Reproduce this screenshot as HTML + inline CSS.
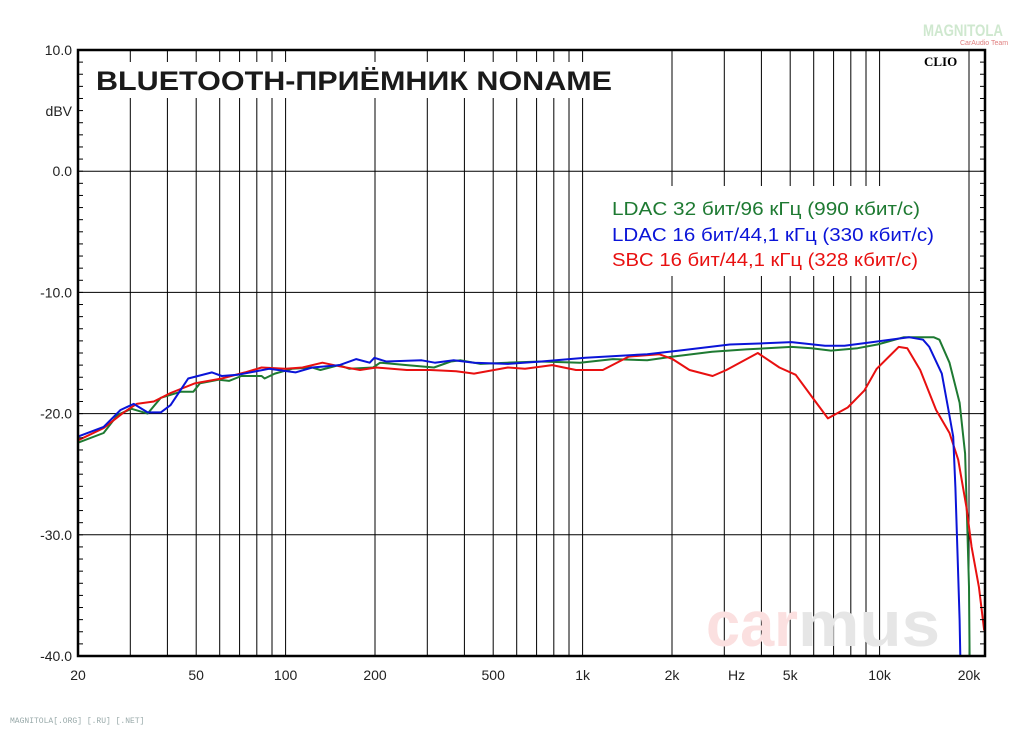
<!DOCTYPE html>
<html><head><meta charset="utf-8"><style>
html,body{margin:0;padding:0;background:#fff;}
svg{display:block;font-family:"Liberation Sans",sans-serif;}
</style></head><body>
<svg id="chart" width="1024" height="730" viewBox="0 0 1024 730">
<g id="grid"></g>
<g id="wm">
<text x="706" y="646" font-size="64" font-weight="bold" fill="#fbe0e0" textLength="92" lengthAdjust="spacingAndGlyphs">car</text>
<text x="798" y="646" font-size="64" font-weight="bold" fill="#e6e6e6" textLength="142" lengthAdjust="spacingAndGlyphs">mus</text>
</g>
<g id="series"></g>
<rect x="88" y="62" width="536" height="36" fill="#fff"/>
<text x="96" y="90" font-size="27" font-weight="bold" fill="#1a1a1a" textLength="516" lengthAdjust="spacingAndGlyphs">BLUETOOTH-ПРИЁМНИК NONAME</text>
<text x="924" y="66" font-family="Liberation Serif,serif" font-size="13" font-weight="bold" fill="#000">CLIO</text>
<rect x="600" y="186" width="346" height="90" fill="#fff"/>
<text x="612" y="215" font-size="18" fill="#1e7a32" textLength="308" lengthAdjust="spacingAndGlyphs">LDAC 32 бит/96 кГц (990 кбит/с)</text>
<text x="612" y="241" font-size="18" fill="#0a14d8" textLength="322" lengthAdjust="spacingAndGlyphs">LDAC 16 бит/44,1 кГц (330 кбит/с)</text>
<text x="612" y="266" font-size="18" fill="#e81010" textLength="306" lengthAdjust="spacingAndGlyphs">SBC 16 бит/44,1 кГц (328 кбит/с)</text>
<text x="923" y="36" font-size="17" font-weight="bold" fill="#cfe8cf" textLength="80" lengthAdjust="spacingAndGlyphs">MAGNITOLA</text>
<text x="960" y="45" font-size="7" fill="#e08080">CarAudio Team</text>
<text x="10" y="723" font-family="Liberation Mono,monospace" font-size="8" fill="#9aa">MAGNITOLA[.ORG] [.RU] [.NET]</text>
<rect x="78" y="50" width="907" height="606" fill="none" stroke="#000" stroke-width="2.5"/>
<g id="axes"></g>
</svg>
<script>
const yTicks=[10,0,-10,-20,-30,-40];
const yTickLabels=["10.0","0.0","-10.0","-20.0","-30.0","-40.0"];
const xTicks=[20,50,100,200,500,1000,2000,5000,10000,20000];
const xTickLabels=["20","50","100","200","500","1k","2k","5k","10k","20k"];
const gridFreqs=[30,40,50,60,70,80,90,100,200,300,400,500,600,700,800,900,1000,2000,3000,4000,5000,6000,7000,8000,9000,10000,20000];
const greenF=[20,24.4,27.2,30.3,34.3,38,44.3,48.9,51.5,59.6,64.5,71,83,85,92,105,123,131,151,164,197,208,256,316,360,389,453,557,725,980,1265,1650,2010,2730,3550,5050,5900,6860,8430,9830,12070,15200,15900,17200,18600,19400,19700,20000,20100];
const greenDb=[-22.4,-21.6,-20.1,-19.6,-20.0,-18.7,-18.2,-18.2,-17.5,-17.2,-17.3,-16.9,-16.9,-17.1,-16.7,-16.3,-16.2,-16.4,-16.0,-16.3,-16.2,-15.8,-16.0,-16.2,-15.7,-15.6,-15.9,-15.8,-15.7,-15.8,-15.5,-15.6,-15.3,-14.9,-14.7,-14.5,-14.6,-14.8,-14.6,-14.3,-13.7,-13.7,-13.9,-15.8,-19.1,-23.3,-28.8,-34.3,-40];
const blueF=[20,24.4,27.8,30.8,34.3,38,41,47,56.5,61,69,88,108,123,152,173,192,199,218,287,318,368,431,560,726,1023,1650,2110,3130,4090,5050,6550,7620,9460,12550,14000,14700,16200,17000,17700,18000,18300,18600,18700];
const blueDb=[-21.9,-21.1,-19.7,-19.2,-19.9,-19.9,-19.3,-17.1,-16.6,-16.9,-16.8,-16.3,-16.6,-16.2,-16.0,-15.5,-15.8,-15.4,-15.7,-15.6,-15.8,-15.6,-15.8,-15.9,-15.7,-15.4,-15.1,-14.8,-14.3,-14.2,-14.1,-14.4,-14.4,-14.1,-13.7,-13.9,-14.5,-16.7,-19.5,-21.9,-26.1,-31.5,-37,-40];
const redF=[20,24.4,28.5,31.5,36,41,49.5,61,73,83,100,114,133,152,178,202,256,307,375,431,560,640,790,950,1170,1430,1810,2010,2290,2740,3050,3890,4600,5220,5910,6700,7810,8880,9780,11600,12400,13700,15500,17200,18400,19600,20400,21600,22500];
const redDb=[-22.2,-21.2,-19.9,-19.2,-19.0,-18.3,-17.5,-17.1,-16.6,-16.2,-16.3,-16.2,-15.8,-16.1,-16.4,-16.2,-16.4,-16.4,-16.5,-16.7,-16.2,-16.3,-16.0,-16.4,-16.4,-15.3,-15.1,-15.5,-16.4,-16.9,-16.4,-15.0,-16.2,-16.8,-18.6,-20.4,-19.5,-18.1,-16.3,-14.5,-14.6,-16.4,-19.7,-21.6,-23.8,-27.7,-31,-34.3,-37.9];

const NS="http://www.w3.org/2000/svg";
const L=78,R=985,T=50,B=656;
function xs(f){return L+297*Math.log10(f/20);}
function ys(d){return T+(10-d)*(B-T)/50;}
function mk(tag,attrs,parent){const e=document.createElementNS(NS,tag);for(const k in attrs)e.setAttribute(k,attrs[k]);parent.appendChild(e);return e;}
const grid=document.getElementById('grid'),axes=document.getElementById('axes'),ser=document.getElementById('series');
gridFreqs.forEach(f=>{const l=mk('line',{x1:xs(f),x2:xs(f),y1:T,y2:B,stroke:'#000','stroke-width':1},grid);

});
yTicks.forEach((d,i)=>{const l=mk('line',{x1:L,x2:R,y1:ys(d),y2:ys(d),stroke:'#000','stroke-width':1},grid);


const t=mk('text',{x:72,y:ys(d)+5,'font-size':14,'text-anchor':'end',fill:'#222'},axes);t.textContent=yTickLabels[i];

});
for(let d=-40;d<=10;d++){const y=ys(d);
const a=mk('line',{x1:L,x2:L+5,y1:y,y2:y,stroke:'#000'},axes);


const b=mk('line',{x1:R-5,x2:R,y1:y,y2:y,stroke:'#000'},axes);

}
const du=mk('text',{x:72,y:116,'font-size':14,'text-anchor':'end',fill:'#222'},axes);du.textContent='dBV';


xTicks.forEach((f,i)=>{const t=mk('text',{x:xs(f),y:680,'font-size':14,'text-anchor':'middle',fill:'#222'},axes);t.textContent=xTickLabels[i];

});
const hz=mk('text',{x:xs(3300),y:680,'font-size':14,'text-anchor':'middle',fill:'#222'},axes);hz.textContent='Hz';


function draw(F,D,col,name){const pts=F.map((f,i)=>xs(f).toFixed(1)+','+Math.max(T,Math.min(B,ys(D[i]))).toFixed(1)).join(' ');
const p=mk('polyline',{points:pts,fill:'none',stroke:col,'stroke-width':2,'stroke-linejoin':'round'},ser);

}
draw(greenF,greenDb,'#1e7a32','series-ldac-32');
draw(redF,redDb,'#e81010','series-sbc-16');
draw(blueF,blueDb,'#0a14d8','series-ldac-16');
</script>
</body></html>
